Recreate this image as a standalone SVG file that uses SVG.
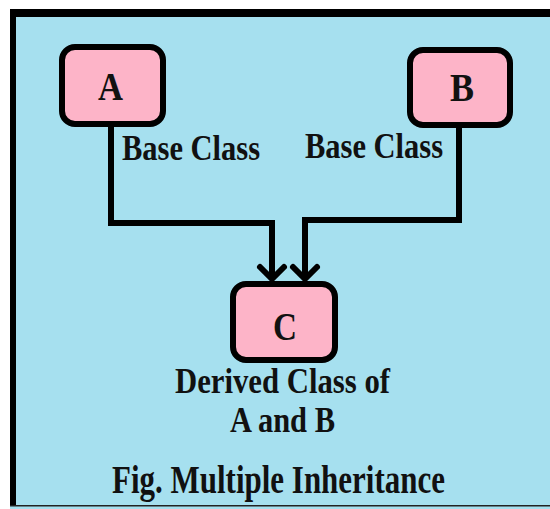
<svg xmlns="http://www.w3.org/2000/svg" width="550" height="509" viewBox="0 0 550 509">
<style>
.node rect{fill:#fdb4c8;stroke:#000;stroke-width:6}
.t{font-family:"Liberation Serif","Times New Roman",serif;font-weight:bold;fill:#111;text-anchor:middle}
.big{font-size:41px}
.lbl{font-size:35px}
.conn{fill:none;stroke:#000;stroke-width:6;stroke-linejoin:miter}
.head{fill:none;stroke:#000;stroke-width:6;stroke-linecap:round;stroke-linejoin:round}
</style>
<rect x="0" y="0" width="550" height="509" fill="#ffffff"/>
<rect x="10" y="9" width="540" height="500" fill="#a6e0ef"/>
<rect x="10" y="9" width="540" height="8" fill="#000"/>
<rect x="10" y="9" width="6" height="497" fill="#000"/>
<rect x="10" y="505" width="540" height="1.5" fill="#222"/>
<g id="connectors">
<path class="conn" d="M111,127 V223 H272 V279"/>
<path class="conn" d="M459,128 V220 H305 V279"/>
<path class="head" d="M260,267 L272,279 L284,267"/>
<path class="head" d="M293,267 L305,279 L317,267"/>
</g>
<g id="nodeA" class="node">
<rect x="62" y="47" width="101" height="77" rx="13"/>
<text class="t big" x="110.5" y="99.5" textLength="25" lengthAdjust="spacingAndGlyphs">A</text>
<text class="t lbl" x="191" y="160" textLength="138" lengthAdjust="spacingAndGlyphs">Base Class</text>
</g>
<g id="nodeB" class="node">
<rect x="410" y="50" width="100" height="75" rx="13"/>
<text class="t big" x="462" y="101" textLength="24" lengthAdjust="spacingAndGlyphs">B</text>
<text class="t lbl" x="374" y="158" textLength="138" lengthAdjust="spacingAndGlyphs">Base Class</text>
</g>
<g id="nodeC" class="node">
<rect x="233" y="284" width="102" height="76" rx="13"/>
<text class="t big" x="285" y="340" textLength="24" lengthAdjust="spacingAndGlyphs">C</text>
<text class="t lbl" x="282.5" y="393" textLength="215" lengthAdjust="spacingAndGlyphs">Derived Class of</text>
<text class="t lbl" x="282.5" y="432" textLength="105" lengthAdjust="spacingAndGlyphs">A and B</text>
</g>
<text class="t" style="font-size:39px" x="278.5" y="493" textLength="333" lengthAdjust="spacingAndGlyphs">Fig. Multiple Inheritance</text>
</svg>
